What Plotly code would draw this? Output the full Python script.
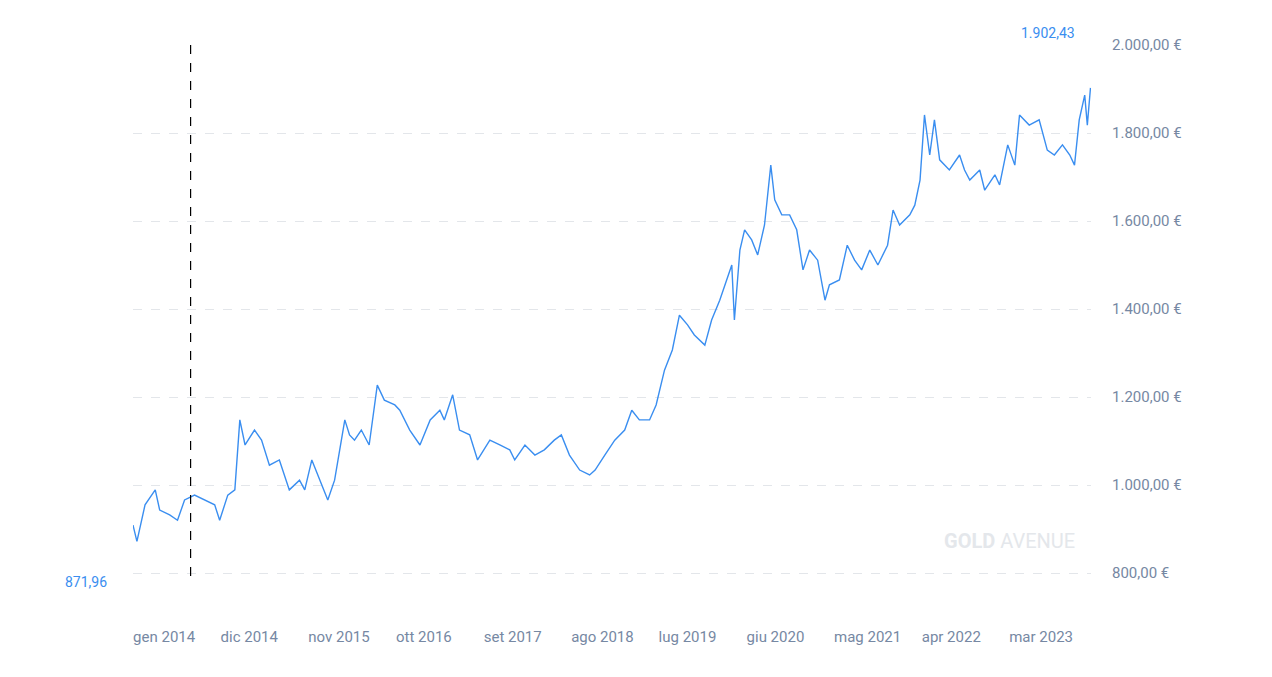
import plotly.graph_objects as go

dates = ["2013-12-01","2013-12-16","2014-01-16","2014-02-24","2014-03-13","2014-04-20","2014-05-20","2014-06-16","2014-07-24","2014-09-01",
"2014-10-09","2014-10-28","2014-11-28","2014-12-25","2015-01-13","2015-02-02","2015-03-10","2015-04-06","2015-05-06","2015-06-13",
"2015-07-21","2015-08-29","2015-09-18","2015-10-15","2015-11-15","2015-12-15","2016-01-10","2016-02-18","2016-03-07","2016-03-26",
"2016-04-21","2016-05-21","2016-06-21","2016-07-18","2016-08-27","2016-09-15","2016-10-23","2016-12-01","2017-01-09","2017-02-15",
"2017-03-04","2017-04-05","2017-05-01","2017-06-09","2017-07-09","2017-08-25","2017-10-02","2017-11-09","2017-11-28","2018-01-06",
"2018-02-13","2018-03-21","2018-04-28","2018-05-25","2018-06-25","2018-08-03","2018-09-10","2018-10-01","2018-11-07","2018-12-15",
"2019-01-22","2019-02-18","2019-03-19","2019-04-27","2019-05-22","2019-06-23","2019-07-23","2019-08-19","2019-09-19","2019-10-15",
"2019-11-24","2019-12-20","2020-01-20","2020-02-15","2020-03-06","2020-03-16","2020-04-06","2020-04-24","2020-05-21","2020-06-13",
"2020-07-09","2020-08-02","2020-08-17","2020-09-13","2020-10-13","2020-11-09","2020-12-03","2020-12-28","2021-01-28","2021-02-25",
"2021-03-14","2021-04-21","2021-05-21","2021-06-18","2021-07-15","2021-08-15","2021-09-15","2021-10-22","2021-11-12","2021-12-07",
"2022-01-15","2022-02-03","2022-02-23","2022-03-12","2022-04-01","2022-04-19","2022-05-09","2022-06-15","2022-07-24","2022-08-12",
"2022-09-01","2022-10-09","2022-10-28","2022-12-06","2022-12-24","2023-01-24","2023-02-20","2023-03-10","2023-04-16","2023-05-24",
"2023-06-24","2023-07-21","2023-08-21","2023-09-18","2023-10-06","2023-10-24","2023-11-14","2023-11-24","2023-12-06"]
prices = [909,871.96,955,989,943,932,920,966,977,966,
955,920,977,989,1148,1091,1125,1102,1045,1057,
989,1011,989,1057,1011,966,1011,1148,1114,1102,
1125,1091,1227,1193,1182,1170,1125,1091,1148,1170,
1148,1205,1125,1114,1057,1102,1091,1080,1057,1091,
1068,1080,1102,1114,1068,1034,1023,1034,1068,1102,
1125,1170,1148,1148,1182,1261,1307,1386,1364,1341,
1318,1375,1420,1466,1500,1375,1534,1580,1557,1523,
1591,1727,1648,1614,1614,1580,1489,1534,1511,1420,
1455,1466,1545,1511,1489,1534,1500,1545,1625,1591,
1614,1636,1693,1841,1750,1830,1739,1716,1750,1716,
1693,1716,1670,1705,1682,1773,1727,1841,1818,1830,
1761,1750,1773,1750,1727,1830,1886,1818,1902.43]

tick_dates = ["2014-01-01","2014-12-01","2015-11-01","2016-10-01","2017-09-01","2018-08-01",
              "2019-07-01","2020-06-01","2021-05-01","2022-04-01","2023-03-01"]
tick_text = ["gen 2014","dic 2014","nov 2015","ott 2016","set 2017","ago 2018",
             "lug 2019","giu 2020","mag 2021","apr 2022","mar 2023"]
y_ticks = [800,1000,1200,1400,1600,1800,2000]
y_text = ["800,00 €","1.000,00 €","1.200,00 €","1.400,00 €","1.600,00 €","1.800,00 €","2.000,00 €"]

blue = "#3a8ef0"
grey = "#7688a3"

fig = go.Figure(go.Scatter(x=dates, y=prices, mode="lines",
                           line=dict(color=blue, width=1.4), hoverinfo="skip"))
fig.update_layout(
    width=1256, height=661, paper_bgcolor="white", plot_bgcolor="white",
    margin=dict(l=125, r=173, t=37, b=59), showlegend=False,
    font=dict(family="Roboto", size=15, color=grey),
    xaxis=dict(type="date", range=["2013-12-01", "2023-12-08"], tickvals=tick_dates,
               ticktext=tick_text, ticklabelposition="outside right", ticklabelshift=-8,
               ticklabelstandoff=16, showgrid=False,
               zeroline=False, showline=False, ticks="", tickfont=dict(size=15, color=grey)),
    yaxis=dict(side="right", range=[716, 2000], tickvals=y_ticks, ticktext=y_text,
               showgrid=True, gridcolor="#e3e6ea", griddash="dash",
               gridwidth=1, zeroline=False, ticklabelstandoff=20,
               tickfont=dict(size=15, color=grey)),
    shapes=[
        dict(type="line", xref="x", yref="paper", x0="2014-07-09", x1="2014-07-09",
             y0=0.06, y1=1, line=dict(color="black", width=1.2, dash="dash")),
    ],
    annotations=[
        dict(text="1.902,43", xref="paper", yref="paper", x=1.0, y=1.0, yshift=2, xshift=-14,
             xanchor="right", yanchor="bottom", showarrow=False, font=dict(size=14, color=blue)),
        dict(text="871,96", xref="paper", yref="paper", x=-0.025, y=0.02, yshift=17,
             xanchor="right", yanchor="middle", showarrow=False, font=dict(size=14, color=blue)),
        dict(text="<b>GOLD</b> AVENUE", xref="paper", yref="paper", x=1.0, y=0.125,
             xshift=-14, yshift=-16,
             xanchor="right", showarrow=False, font=dict(size=20, color="#e4e7eb")),
    ],
)
fig.write_html("out.html")
